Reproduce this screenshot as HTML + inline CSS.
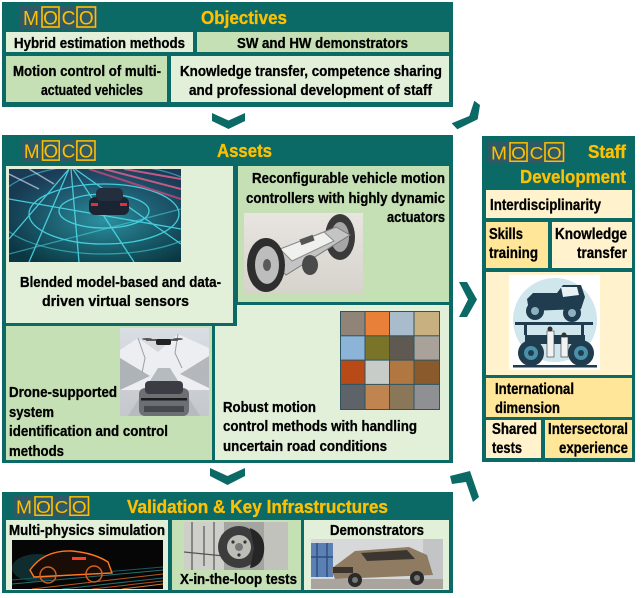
<!DOCTYPE html>
<html><head><meta charset="utf-8"><style>
html,body{margin:0;padding:0;background:#fff;}
svg{display:block;}
.t{font-family:"Liberation Sans Narrow","Liberation Sans",Arial,sans-serif;font-weight:bold;fill:#000;stroke:#000;stroke-width:0.3px;}
.h{font-family:"Liberation Sans Narrow","Liberation Sans",Arial,sans-serif;font-weight:bold;fill:#ffc000;stroke:#ffc000;stroke-width:0.3px;}
.lg{font-family:"Liberation Sans",Arial,sans-serif;font-weight:normal;fill:#ffc000;}
</style></head><body>
<svg width="643" height="598" viewBox="0 0 643 598" xmlns="http://www.w3.org/2000/svg">
<defs>
<linearGradient id="gb" x1="0" y1="0" x2="0" y2="1"><stop offset="0" stop-color="#1b3452"/><stop offset="1" stop-color="#08303a"/></linearGradient>
<radialGradient id="gbr" cx="0.55" cy="0.55" r="0.6"><stop offset="0" stop-color="#3fd0dc" stop-opacity="0.6"/><stop offset="1" stop-color="#2fb8c8" stop-opacity="0.05"/></radialGradient>
<linearGradient id="gr" x1="0" y1="0" x2="0" y2="1"><stop offset="0" stop-color="#e8e5e0"/><stop offset="1" stop-color="#d6d2cc"/></linearGradient>
<linearGradient id="gd" x1="0" y1="0" x2="0" y2="1"><stop offset="0" stop-color="#d9dee4"/><stop offset="1" stop-color="#c4c8cc"/></linearGradient>
</defs>

<!-- ===== Objectives ===== -->
<rect x="2" y="2" width="451" height="105" fill="#0b6a66"/>
<g transform="translate(20,5)">
<rect x="0" y="0" width="77" height="24" fill="#2f5a63"/>
<text class="lg" x="3" y="20" font-size="20" textLength="16" lengthAdjust="spacingAndGlyphs">M</text>
<rect x="22" y="2" width="17" height="20" fill="none" stroke="#ffc000" stroke-width="1.6"/>
<text class="lg" x="30.5" y="19.5" font-size="19" text-anchor="middle">O</text>
<text class="lg" x="48.5" y="19.5" font-size="19" text-anchor="middle">C</text>
<rect x="57" y="2" width="18.5" height="20" fill="none" stroke="#ffc000" stroke-width="1.6"/>
<text class="lg" x="66.3" y="19.5" font-size="19" text-anchor="middle">O</text>
</g>
<text class="h" x="201" y="24" font-size="18.5" textLength="86" lengthAdjust="spacingAndGlyphs">Objectives</text>
<rect x="6" y="32" width="187" height="20" fill="#e2efd9"/>
<rect x="197" y="32" width="252" height="20" fill="#c5e0b4"/>
<rect x="6" y="56" width="161" height="46" fill="#c5e0b4"/>
<rect x="171" y="56" width="278" height="46" fill="#e2efd9"/>
<text class="t" x="14" y="48" font-size="14.5" textLength="171" lengthAdjust="spacingAndGlyphs">Hybrid estimation methods</text>
<text class="t" x="237" y="48" font-size="14.5" textLength="171" lengthAdjust="spacingAndGlyphs">SW and HW demonstrators</text>
<text class="t" x="13" y="76" font-size="14.5" textLength="148" lengthAdjust="spacingAndGlyphs">Motion control of multi-</text>
<text class="t" x="41" y="95" font-size="14.5" textLength="102" lengthAdjust="spacingAndGlyphs">actuated vehicles</text>
<text class="t" x="180" y="76" font-size="14.5" textLength="262" lengthAdjust="spacingAndGlyphs">Knowledge transfer, competence sharing</text>
<text class="t" x="189" y="95" font-size="14.5" textLength="243" lengthAdjust="spacingAndGlyphs">and professional development of staff</text>

<!-- chevrons -->
<polygon points="212,113 228.5,120.5 245,113 245,121 228.5,129 212,121" fill="#0b6a66"/>
<polygon points="210,468 227.5,476 245,468 245,476 227.5,485 210,476" fill="#0b6a66"/>
<polygon points="459,282 467,282 477,299.5 467,317 459,317 468,299.5" fill="#0b6a66"/>
<polygon points="451.7,123.3 469.3,116 474.3,100.7 480,105 477.7,119.3 457.3,129.3" fill="#0b6a66"/>
<polygon points="450,476 470,471 479,497 473,502 466,482 452,484" fill="#0b6a66"/>

<!-- ===== Assets ===== -->
<rect x="2" y="135" width="451" height="328" fill="#0b6a66"/>
<g transform="translate(21,139) scale(0.98,0.96)">
<rect x="0" y="0" width="77" height="24" fill="#2f5a63"/>
<text class="lg" x="3" y="20" font-size="20" textLength="16" lengthAdjust="spacingAndGlyphs">M</text>
<rect x="22" y="2" width="17" height="20" fill="none" stroke="#ffc000" stroke-width="1.6"/>
<text class="lg" x="30.5" y="19.5" font-size="19" text-anchor="middle">O</text>
<text class="lg" x="48.5" y="19.5" font-size="19" text-anchor="middle">C</text>
<rect x="57" y="2" width="18.5" height="20" fill="none" stroke="#ffc000" stroke-width="1.6"/>
<text class="lg" x="66.3" y="19.5" font-size="19" text-anchor="middle">O</text>
</g>
<text class="h" x="217" y="157" font-size="18.5" textLength="55" lengthAdjust="spacingAndGlyphs">Assets</text>

<rect x="215" y="305" width="234" height="155" fill="#e2efd9"/>
<rect x="6" y="166" width="231" height="160" fill="#0b6a66"/>
<rect x="6" y="166" width="227" height="157" fill="#e2efd9"/>
<rect x="238" y="166" width="211" height="136" fill="#c5e0b4"/>
<rect x="6" y="326" width="206" height="134" fill="#c5e0b4"/>

<!-- Blended image -->
<svg x="9" y="169" width="172" height="93" viewBox="0 0 172 93">
<rect width="172" height="93" fill="url(#gb)"/>
<rect width="172" height="93" fill="url(#gbr)"/>
<g stroke="#4ee0ee" stroke-width="1.3" fill="none" opacity="0.85">
<line x1="60" y1="0" x2="0" y2="70"/><line x1="60" y1="0" x2="20" y2="93"/>
<line x1="62" y1="0" x2="70" y2="93"/><line x1="64" y1="0" x2="125" y2="93"/>
<line x1="66" y1="0" x2="172" y2="75"/><line x1="0" y1="30" x2="172" y2="60"/>
<ellipse cx="95" cy="45" rx="75" ry="30"/><ellipse cx="95" cy="42" rx="45" ry="17"/>
<ellipse cx="95" cy="40" rx="110" ry="45" opacity="0.6"/>
<line x1="0" y1="85" x2="172" y2="40" opacity="0.6"/>
</g>
<g stroke="#e0608a" stroke-width="2" opacity="0.85"><line x1="95" y1="0" x2="172" y2="20"/><line x1="115" y1="0" x2="172" y2="10"/><line x1="80" y1="0" x2="172" y2="30" stroke="#c04878"/></g>
<g stroke="#e8f0ff" stroke-width="1.5" opacity="0.6"><line x1="20" y1="0" x2="45" y2="15"/><line x1="0" y1="5" x2="30" y2="20"/></g>
<rect x="80" y="28" width="40" height="18" rx="6" fill="#1a2432"/>
<rect x="87" y="19" width="27" height="13" rx="5" fill="#232e3e"/>
<rect x="82" y="34" width="7" height="3" fill="#e03040"/><rect x="111" y="34" width="7" height="3" fill="#e03040"/>
</svg>

<!-- Reconfigurable image -->
<svg x="244" y="213" width="119" height="81" viewBox="0 0 119 81">
<rect width="119" height="81" fill="url(#gr)"/>
<ellipse cx="96" cy="24" rx="15" ry="23" fill="#3a3a3a"/>
<ellipse cx="96" cy="24" rx="9" ry="15" fill="#a6a6a6"/>
<polygon points="22,42 92,14 106,22 42,62" fill="#c4c4c4" stroke="#7a7a7a" stroke-width="1"/>
<polygon points="36,36 80,19 90,28 48,48" fill="#f0f0ee" stroke="#8a8a8a" stroke-width="1"/>
<rect x="56" y="24" width="14" height="6" fill="#555" transform="rotate(-20 63 27)"/>
<ellipse cx="66" cy="52" rx="8" ry="10" fill="#4a4a4a"/>
<ellipse cx="22" cy="52" rx="19" ry="27" fill="#2e2e2e"/>
<ellipse cx="23" cy="52" rx="12" ry="19" fill="#bdbdbd"/>
<ellipse cx="23" cy="52" rx="4" ry="6" fill="#5a5a5a"/>
</svg>

<!-- Drone image -->
<svg x="120" y="328" width="89" height="88" viewBox="0 0 89 88">
<rect width="89" height="88" fill="url(#gd)"/>
<polygon points="0,22 18,10 38,24 58,6 89,20 89,62 0,62" fill="#eceef1"/>
<polygon points="0,30 30,48 0,62" fill="#aeb3b8"/>
<polygon points="89,28 60,46 89,60" fill="#b4b8bd"/>
<g stroke="#9aa0a6" stroke-width="1" fill="none"><polyline points="18,10 25,30 22,45"/><polyline points="58,6 55,25 62,40"/></g>
<polygon points="38,40 50,40 80,88 8,88" fill="#b6bbc0"/>
<rect x="19" y="60" width="50" height="28" rx="6" fill="#6c7074"/>
<rect x="25" y="53" width="38" height="13" rx="4" fill="#3a3e44"/>
<rect x="21" y="70" width="46" height="2.5" fill="#1c1c1c"/>
<rect x="24" y="78" width="40" height="6" fill="#45494d"/>
<line x1="26" y1="12" x2="58" y2="12" stroke="#333" stroke-width="1.5"/>
<rect x="36" y="11" width="15" height="6" rx="2" fill="#222"/>
<ellipse cx="27" cy="11" rx="5" ry="1" fill="#555"/><ellipse cx="58" cy="11" rx="5" ry="1" fill="#555"/>
</svg>

<!-- Road grid -->
<svg x="340" y="311" width="100" height="99" viewBox="0 0 100 99">
<rect width="100" height="99" fill="#2d5560"/>
<g>
<rect x="1" y="1" width="23.5" height="23.3" fill="#8f8477"/>
<rect x="25.5" y="1" width="23.5" height="23.3" fill="#e8803a"/>
<rect x="50" y="1" width="23.5" height="23.3" fill="#a8bccb"/>
<rect x="74.5" y="1" width="24.5" height="23.3" fill="#c9b080"/>
<rect x="1" y="25.3" width="23.5" height="23.3" fill="#8cb4d8"/>
<rect x="25.5" y="25.3" width="23.5" height="23.3" fill="#7a7428"/>
<rect x="50" y="25.3" width="23.5" height="23.3" fill="#5e5a52"/>
<rect x="74.5" y="25.3" width="24.5" height="23.3" fill="#a8a29a"/>
<rect x="1" y="49.6" width="23.5" height="23.3" fill="#b84a18"/>
<rect x="25.5" y="49.6" width="23.5" height="23.3" fill="#c8ccc8"/>
<rect x="50" y="49.6" width="23.5" height="23.3" fill="#b07840"/>
<rect x="74.5" y="49.6" width="24.5" height="23.3" fill="#8a5a2c"/>
<rect x="1" y="73.9" width="23.5" height="24.1" fill="#5e636a"/>
<rect x="25.5" y="73.9" width="23.5" height="24.1" fill="#c08450"/>
<rect x="50" y="73.9" width="23.5" height="24.1" fill="#8a7658"/>
<rect x="74.5" y="73.9" width="24.5" height="24.1" fill="#8e9094"/>
</g>
</svg>

<text class="t" x="252" y="183" font-size="15" textLength="193" lengthAdjust="spacingAndGlyphs">Reconfigurable vehicle motion</text>
<text class="t" x="246" y="203" font-size="15" textLength="199" lengthAdjust="spacingAndGlyphs">controllers with highly dynamic</text>
<text class="t" x="387" y="222" font-size="15" textLength="58" lengthAdjust="spacingAndGlyphs">actuators</text>
<text class="t" x="20" y="287" font-size="15" textLength="201" lengthAdjust="spacingAndGlyphs">Blended model-based and data-</text>
<text class="t" x="42" y="306" font-size="15" textLength="147" lengthAdjust="spacingAndGlyphs">driven virtual sensors</text>
<text class="t" x="9" y="397" font-size="15" textLength="108" lengthAdjust="spacingAndGlyphs">Drone-supported</text>
<text class="t" x="9" y="417" font-size="15" textLength="45" lengthAdjust="spacingAndGlyphs">system</text>
<text class="t" x="9" y="436" font-size="15" textLength="159" lengthAdjust="spacingAndGlyphs">identification and control</text>
<text class="t" x="9" y="456" font-size="15" textLength="55" lengthAdjust="spacingAndGlyphs">methods</text>
<text class="t" x="223" y="412" font-size="15" textLength="93" lengthAdjust="spacingAndGlyphs">Robust motion</text>
<text class="t" x="223" y="431" font-size="15" textLength="194" lengthAdjust="spacingAndGlyphs">control methods with handling</text>
<text class="t" x="223" y="451" font-size="15" textLength="164" lengthAdjust="spacingAndGlyphs">uncertain road conditions</text>

<!-- ===== Staff Development ===== -->
<rect x="482" y="136" width="153" height="326" fill="#0b6a66"/>
<g transform="translate(488,141) scale(1,0.92)">
<rect x="0" y="0" width="77" height="24" fill="#2f5a63"/>
<text class="lg" x="3" y="20" font-size="20" textLength="16" lengthAdjust="spacingAndGlyphs">M</text>
<rect x="22" y="2" width="17" height="20" fill="none" stroke="#ffc000" stroke-width="1.6"/>
<text class="lg" x="30.5" y="19.5" font-size="19" text-anchor="middle">O</text>
<text class="lg" x="48.5" y="19.5" font-size="19" text-anchor="middle">C</text>
<rect x="57" y="2" width="18.5" height="20" fill="none" stroke="#ffc000" stroke-width="1.6"/>
<text class="lg" x="66.3" y="19.5" font-size="19" text-anchor="middle">O</text>
</g>
<text class="h" x="588" y="158" font-size="18.5" textLength="38" lengthAdjust="spacingAndGlyphs">Staff</text>
<text class="h" x="520" y="183" font-size="18.5" textLength="106" lengthAdjust="spacingAndGlyphs">Development</text>
<rect x="486" y="190" width="146" height="28" fill="#fff2cc"/>
<rect x="486" y="222" width="62" height="46" fill="#ffe699"/>
<rect x="552" y="222" width="80" height="46" fill="#fff2cc"/>
<rect x="486" y="272" width="146" height="103" fill="#fff2cc"/>
<rect x="486" y="378" width="146" height="39" fill="#ffe699"/>
<rect x="486" y="420" width="55" height="38" fill="#fff2cc"/>
<rect x="545" y="420" width="87" height="38" fill="#ffe699"/>

<!-- Staff image -->
<svg x="509" y="275" width="91" height="95" viewBox="0 0 91 95">
<rect width="91" height="95" fill="#ffffff"/>
<circle cx="46" cy="45" r="42" fill="#cfe6ec"/>
<g fill="#1f3d4e">
<path d="M18,24 L24,18 L48,18 L54,10 L72,10 L76,22 L72,34 L20,36 Z"/>
<circle cx="26" cy="36" r="9"/><circle cx="63" cy="38" r="9"/>
<rect x="6" y="47" width="78" height="3"/>
<rect x="15" y="50" width="3" height="10"/><rect x="72" y="50" width="3" height="10"/>
<rect x="16" y="60" width="60" height="9"/>
<circle cx="22" cy="78" r="13"/><circle cx="72" cy="78" r="13"/>
<rect x="4" y="90" width="84" height="2.5"/>
</g>
<circle cx="26" cy="36" r="4" fill="#8fb0c0"/><circle cx="63" cy="38" r="4" fill="#8fb0c0"/>
<circle cx="22" cy="78" r="7" fill="#4a90a8"/><circle cx="72" cy="78" r="7" fill="#4a90a8"/>
<circle cx="22" cy="78" r="3" fill="#1f3d4e"/><circle cx="72" cy="78" r="3" fill="#1f3d4e"/>
<path d="M52,12 L68,12 L70,20 L54,22 Z" fill="#e8f2f5"/>
<rect x="38" y="56" width="7" height="26" fill="#f2f2f2" stroke="#333" stroke-width="0.6"/>
<rect x="52" y="62" width="7" height="20" fill="#f2f2f2" stroke="#333" stroke-width="0.6"/>
<circle cx="41" cy="54" r="2.5" fill="#333"/><circle cx="55" cy="60" r="2.5" fill="#333"/>
</svg>

<text class="t" x="490" y="210" font-size="15.5" textLength="111" lengthAdjust="spacingAndGlyphs">Interdisciplinarity</text>
<text class="t" x="489" y="239" font-size="15.5" textLength="34" lengthAdjust="spacingAndGlyphs">Skills</text>
<text class="t" x="489" y="258" font-size="15.5" textLength="49" lengthAdjust="spacingAndGlyphs">training</text>
<text class="t" x="555" y="239" font-size="15.5" textLength="72" lengthAdjust="spacingAndGlyphs">Knowledge</text>
<text class="t" x="577" y="258" font-size="15.5" textLength="50" lengthAdjust="spacingAndGlyphs">transfer</text>
<text class="t" x="495" y="394" font-size="15.5" textLength="79" lengthAdjust="spacingAndGlyphs">International</text>
<text class="t" x="495" y="413" font-size="15.5" textLength="65" lengthAdjust="spacingAndGlyphs">dimension</text>
<text class="t" x="492" y="434" font-size="15.5" textLength="45" lengthAdjust="spacingAndGlyphs">Shared</text>
<text class="t" x="492" y="453" font-size="15.5" textLength="30" lengthAdjust="spacingAndGlyphs">tests</text>
<text class="t" x="548" y="434" font-size="15.5" textLength="80" lengthAdjust="spacingAndGlyphs">Intersectoral</text>
<text class="t" x="559" y="453" font-size="15.5" textLength="69" lengthAdjust="spacingAndGlyphs">experience</text>

<!-- ===== Validation ===== -->
<rect x="2" y="492" width="451" height="101" fill="#0b6a66"/>
<g transform="translate(13,495) scale(1,0.92)">
<rect x="0" y="0" width="77" height="24" fill="#2f5a63"/>
<text class="lg" x="3" y="20" font-size="20" textLength="16" lengthAdjust="spacingAndGlyphs">M</text>
<rect x="22" y="2" width="17" height="20" fill="none" stroke="#ffc000" stroke-width="1.6"/>
<text class="lg" x="30.5" y="19.5" font-size="19" text-anchor="middle">O</text>
<text class="lg" x="48.5" y="19.5" font-size="19" text-anchor="middle">C</text>
<rect x="57" y="2" width="18.5" height="20" fill="none" stroke="#ffc000" stroke-width="1.6"/>
<text class="lg" x="66.3" y="19.5" font-size="19" text-anchor="middle">O</text>
</g>
<text class="h" x="127" y="513" font-size="18.5" textLength="261" lengthAdjust="spacingAndGlyphs">Validation &amp; Key Infrastructures</text>
<rect x="6" y="520" width="162" height="70" fill="#e2efd9"/>
<rect x="172" y="520" width="129" height="70" fill="#c5e0b4"/>
<rect x="304" y="520" width="145" height="70" fill="#e2efd9"/>

<!-- Multi-physics image -->
<svg x="12" y="540" width="151" height="49" viewBox="0 0 151 49">
<rect width="151" height="49" fill="#060606"/>
<g stroke-width="1" opacity="0.8">
<line x1="0" y1="44" x2="151" y2="30" stroke="#2a8a90"/>
<line x1="20" y1="49" x2="151" y2="34" stroke="#e07020"/>
<line x1="50" y1="49" x2="151" y2="38" stroke="#2a8a90"/>
<line x1="80" y1="49" x2="151" y2="41" stroke="#e06020"/>
<line x1="110" y1="49" x2="151" y2="44" stroke="#ff9a40"/>
<line x1="0" y1="40" x2="151" y2="27" stroke="#1f6f78"/>
</g>
<ellipse cx="25" cy="28" rx="25" ry="14" fill="#1a5a60" opacity="0.45"/>
<path d="M18,30 Q32,10 60,11 Q82,13 96,22 L100,33 L22,37 Z" fill="#1a0c06" stroke="#ff7a20" stroke-width="1.4"/>
<circle cx="36" cy="35" r="8" fill="none" stroke="#d06020" stroke-width="1.5"/>
<circle cx="82" cy="34" r="8" fill="none" stroke="#d06020" stroke-width="1.5"/>
<rect x="60" y="17" width="14" height="3" fill="#ff4020"/>
</svg>

<!-- X-in-the-loop image -->
<svg x="184" y="522" width="104" height="48" viewBox="0 0 104 48">
<rect width="104" height="48" fill="#a4a4a0"/>
<rect x="0" y="0" width="40" height="48" fill="#cfcfca"/>
<g stroke="#555" stroke-width="1.2"><line x1="8" y1="0" x2="8" y2="48"/><line x1="20" y1="4" x2="20" y2="44"/><line x1="30" y1="0" x2="30" y2="48"/><line x1="0" y1="30" x2="40" y2="34"/></g>
<rect x="80" y="0" width="24" height="48" fill="#c2c2bd"/>
<circle cx="55" cy="25" r="21" fill="#3c3c3c"/>
<circle cx="55" cy="25" r="12" fill="#bdbdb8"/>
<circle cx="55" cy="25" r="4" fill="#777"/>
<circle cx="49" cy="20" r="1.6" fill="#333"/><circle cx="61" cy="20" r="1.6" fill="#333"/><circle cx="55" cy="33" r="1.6" fill="#333"/>
<path d="M66,6 Q82,12 80,30 Q78,44 66,46 L70,26 Z" fill="#262626"/>
</svg>

<!-- Demonstrators image -->
<svg x="311" y="539" width="132" height="50" viewBox="0 0 132 50">
<rect width="132" height="50" fill="#d6d8da"/>
<rect x="0" y="4" width="22" height="34" fill="#5a80b4"/>
<g stroke="#2e4f80" stroke-width="1.5"><line x1="6" y1="4" x2="6" y2="38"/><line x1="16" y1="4" x2="16" y2="38"/><line x1="0" y1="18" x2="22" y2="18"/></g>
<rect x="112" y="0" width="20" height="40" fill="#c2c4c6"/>
<rect x="0" y="40" width="132" height="10" fill="#a9a49d"/>
<path d="M20,30 L28,24 L44,12 L98,8 L116,16 L122,36 L24,40 Z" fill="#8e7b62"/>
<polygon points="50,14 96,11 104,20 56,22" fill="#3b3730"/>
<rect x="22" y="28" width="20" height="6" fill="#3a342c"/>
<circle cx="44" cy="41" r="7" fill="#2a2a2a"/><circle cx="106" cy="39" r="7" fill="#2a2a2a"/>
<circle cx="44" cy="41" r="3" fill="#777"/><circle cx="106" cy="39" r="3" fill="#777"/>
</svg>

<text class="t" x="9" y="535" font-size="14.5" textLength="156" lengthAdjust="spacingAndGlyphs">Multi-physics simulation</text>
<text class="t" x="180" y="584" font-size="14.5" textLength="117" lengthAdjust="spacingAndGlyphs">X-in-the-loop tests</text>
<text class="t" x="330" y="535" font-size="14.5" textLength="94" lengthAdjust="spacingAndGlyphs">Demonstrators</text>
</svg>
</body></html>
